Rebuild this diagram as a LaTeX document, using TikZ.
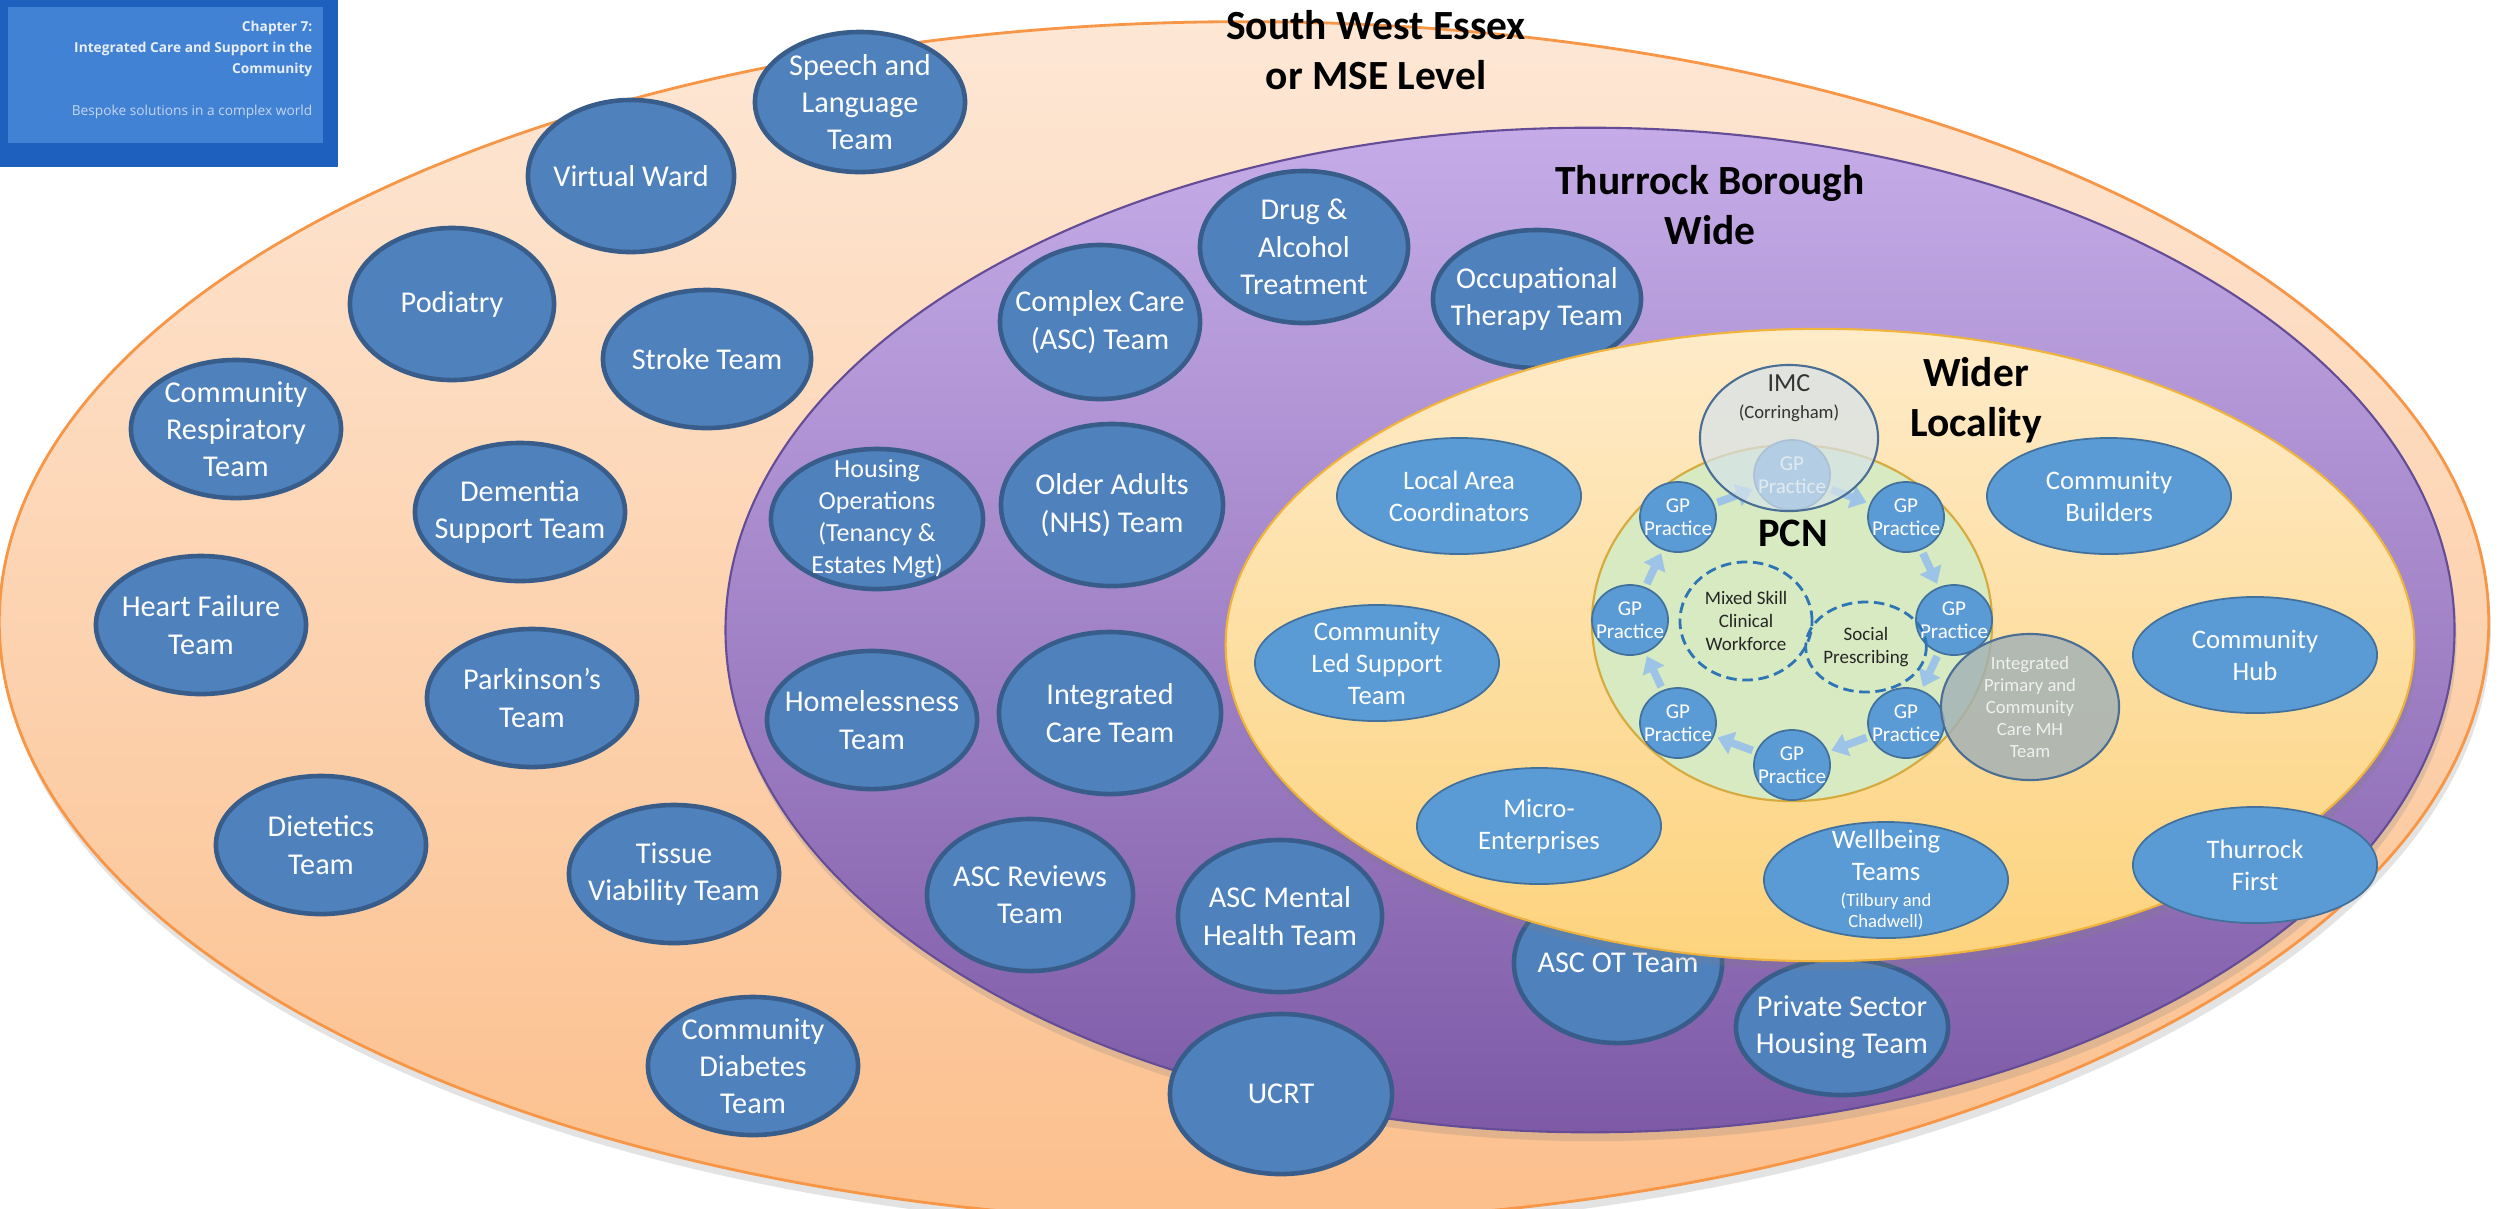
\documentclass[tikz,border=0pt]{standalone}
\usepackage{fontspec}
\setmainfont{Carlito}
\newfontfamily\hdrfamily{Open Sans}
\usetikzlibrary{shapes.geometric,arrows.meta,shadows}

\definecolor{peachtop}{RGB}{253,231,213}
\definecolor{peachbot}{RGB}{252,191,140}
\definecolor{peachedge}{RGB}{247,150,70}
\definecolor{purpletop}{RGB}{197,172,232}
\definecolor{purplebot}{RGB}{126,90,166}
\definecolor{purpleedge}{RGB}{100,76,150}
\definecolor{yellowtop}{RGB}{254,235,201}
\definecolor{yellowbot}{RGB}{253,211,125}
\definecolor{yellowedge}{RGB}{240,180,60}
\definecolor{pcngreen}{RGB}{216,234,194}
\definecolor{pcnedge}{RGB}{214,170,60}
\definecolor{teamblue}{RGB}{79,129,189}
\definecolor{teamedge}{RGB}{56,93,138}
\definecolor{localblue}{RGB}{91,155,213}
\definecolor{localedge}{RGB}{65,113,156}
\definecolor{arrowblue}{RGB}{157,195,230}
\definecolor{dashblue}{RGB}{46,117,182}
\definecolor{imcfill}{RGB}{214,226,234}
\definecolor{imcedge}{RGB}{74,110,148}
\definecolor{mhfill}{RGB}{160,176,182}
\definecolor{hdrdark}{RGB}{30,96,190}
\definecolor{hdrlight}{RGB}{66,130,212}
\definecolor{hdrtext}{RGB}{232,238,247}
\definecolor{hdrsub}{RGB}{196,214,240}

\newcommand{\teamfont}{\fontsize{8.6}{10.6}\selectfont}
\newcommand{\housefont}{\fontsize{7.4}{9.1}\selectfont}
\newcommand{\localfont}{\fontsize{7.6}{9.1}\selectfont}
\newcommand{\mhfont}{\fontsize{5.3}{6.2}\selectfont}
\newcommand{\gpfont}{\fontsize{6}{6.6}\selectfont}
\newcommand{\pcnfont}{\fontsize{5.4}{6.6}\selectfont}
\newcommand{\imcfont}{\fontsize{7.4}{9}\selectfont}
\newcommand{\zonefont}{\fontsize{11.8}{14.2}\selectfont\bfseries}
\newcommand{\hdrfont}{\hdrfamily\fontsize{3.9}{6}\selectfont}

\tikzset{
  txt/.style={text=white, align=center, inner sep=0pt, text opacity=1},
  teambox/.style={ellipse, draw=teamedge, fill=teamblue, line width=1.3pt, minimum width=2.1cm, minimum height=1.38cm, inner sep=0pt},
  team/.style={teambox, label={[txt, font=\teamfont]center:#1}},
  localbox/.style={ellipse, draw=localedge, fill=localblue, line width=0.5pt, minimum width=2.44cm, minimum height=1.16cm, inner sep=0pt},
  local/.style={localbox, label={[txt, font=\localfont]center:#1}},
  gp/.style={ellipse, draw=localedge, fill=localblue, line width=0.5pt, minimum width=0.76cm, minimum height=0.7cm, inner sep=0pt, label={[txt, font=\gpfont]center:GP\\Practice}},
  flow/.style={-{Triangle[length=4.5pt, width=6.5pt]}, draw=arrowblue, line width=2.2pt, shorten <=1pt, shorten >=1pt},
  ring/.style={ellipse, draw=dashblue, dash pattern=on 3pt off 1.6pt, line width=0.8pt, inner sep=0pt, align=center, text=black!85, font=\pcnfont},
  zone/.style={font=\zonefont, align=center, inner sep=0pt},
  zoneshadow/.style={drop shadow={shadow xshift=0.6pt, shadow yshift=-2.5pt, opacity=0.22}},
}

\begin{document}
\begin{tikzpicture}[x=0.01cm, y=-0.01cm]
  \useasboundingbox (0,0) rectangle (2503,1208);
  \clip (0,0) rectangle (2503,1208);

  % header box
  \fill[hdrdark] (0,0) rectangle (338,167);
  \fill[hdrlight] (8,7) rectangle (323,143);
  \node[anchor=north east, align=right, inner sep=0pt, text=hdrtext, font=\hdrfont\bfseries] (chapter) at (313,20)
    {Chapter 7:\\Integrated Care and Support in the\\Community\\[6pt]{\mdseries\color{hdrsub}Bespoke solutions in a complex world}};

  % the three levels
  \draw[draw=peachedge, line width=0.8pt, top color=peachtop, bottom color=peachbot, zoneshadow] (1244,622) ellipse [x radius=12.44cm, y radius=6cm];
  \draw[draw=purpleedge, line width=0.6pt, top color=purpletop, bottom color=purplebot, zoneshadow] (1590,630) ellipse [x radius=8.64cm, y radius=5.02cm];

  % South West Essex teams
  \node[team={Speech and\\Language\\Team}, minimum height=1.4cm] (speech) at (860,102) {};
  \node[team={Virtual Ward}, minimum width=2.06cm, minimum height=1.52cm] (virtual) at (631,176) {};
  \node[team={Podiatry}, minimum width=2.04cm, minimum height=1.52cm] (podiatry) at (452,304) {};
  \node[team={Stroke Team}, minimum width=2.08cm] (stroke) at (707,359) {};
  \node[team={Community\\Respiratory\\Team}] (respiratory) at (236,429) {};
  \node[team={Dementia\\Support Team}] (dementia) at (520,512) {};
  \node[team={Heart Failure\\Team}] (heart) at (201,625) {};
  \node[team={Parkinson’s\\Team}] (parkinson) at (532,698) {};
  \node[team={Dietetics\\Team}] (dietetics) at (321,845) {};
  \node[team={Tissue\\Viability Team}] (tissue) at (674,874) {};
  \node[team={Community\\Diabetes\\Team}] (diabetes) at (753,1066) {};
  \node[team={UCRT}, minimum width=2.22cm, minimum height=1.6cm] (ucrt) at (1281,1094) {};

  % Thurrock teams
  \node[team={Drug \&\\Alcohol\\Treatment}, minimum width=2.08cm, minimum height=1.52cm] (drug) at (1304,247) {};
  \node[team={Occupational\\Therapy Team}, minimum width=2.08cm] (occupational) at (1537,299) {};
  \node[team={Complex Care\\(ASC) Team}, minimum width=2cm, minimum height=1.54cm] (complex) at (1100,322) {};
  \node[teambox, minimum width=2.12cm, minimum height=1.4cm, label={[txt, font=\housefont]center:Housing\\Operations\\(Tenancy \&\\Estates Mgt)}] (housing) at (877,519) {};
  \node[team={Older Adults\\(NHS) Team}, minimum width=2.22cm, minimum height=1.62cm] (older) at (1112,505) {};
  \node[team={Homelessness\\Team}] (homeless) at (872,720) {};
  \node[team={Integrated\\Care Team}, minimum width=2.22cm, minimum height=1.62cm] (integrated) at (1110,713) {};
  \node[team={ASC Reviews\\Team}, minimum width=2.06cm, minimum height=1.52cm] (reviews) at (1030,895) {};
  \node[team={ASC Mental\\Health Team}, minimum width=2.04cm, minimum height=1.52cm] (mental) at (1280,916) {};
  \node[team={ASC OT Team}, minimum width=2.08cm, minimum height=1.6cm] (ascot) at (1618,963) {};
  \node[team={Private Sector\\Housing Team}, minimum width=2.12cm, minimum height=1.36cm] (private) at (1842,1027) {};

  % wider locality
  \draw[draw=yellowedge, line width=0.6pt, top color=yellowtop, bottom color=yellowbot, zoneshadow] (1820,645) ellipse [x radius=5.94cm, y radius=3.16cm];

  \node[local={Local Area\\Coordinators}] (coordinators) at (1459,496) {};
  \node[local={Community\\Led Support\\Team}] (ledsupport) at (1377,663) {};
  \node[local={Micro-\\Enterprises}] (micro) at (1539,826) {};
  \node[local={Community\\Builders}] (builders) at (2109,496) {};
  \node[local={Community\\Hub}] (hub) at (2255,655) {};
  \node[local={Thurrock\\First}] (first) at (2255,865) {};
  \node[localbox, label={[txt, font=\localfont]center:Wellbeing\\Teams\\[-1.7pt]{\mhfont (Tilbury and}\\[-3.2pt]{\mhfont Chadwell)}}] (wellbeing) at (1886,880) {};

  % PCN
  \draw[draw=pcnedge, fill=pcngreen, line width=0.6pt] (1792,623) ellipse [x radius=2cm, y radius=1.78cm];

  \node[gp] (gpN) at (1792,475) {};
  \node[gp] (gpNE) at (1906,517) {};
  \node[gp] (gpE) at (1954,620) {};
  \node[gp] (gpSE) at (1906,723) {};
  \node[gp] (gpS) at (1792,765) {};
  \node[gp] (gpSW) at (1678,723) {};
  \node[gp] (gpW) at (1630,620) {};
  \node[gp] (gpNW) at (1678,517) {};

  \draw[flow] (gpN) -- (gpNE);
  \draw[flow] (gpNE) -- (gpE);
  \draw[flow] (gpE) -- (gpSE);
  \draw[flow] (gpSE) -- (gpS);
  \draw[flow] (gpS) -- (gpSW);
  \draw[flow] (gpSW) -- (gpW);
  \draw[flow] (gpW) -- (gpNW);
  \draw[flow] (gpNW) -- (gpN);

  \node[ring, minimum width=1.32cm, minimum height=1.18cm] (mixed) at (1746,621) {Mixed Skill\\Clinical\\Workforce};
  \node[ring, minimum width=1.02cm, minimum height=0.9cm] (social) at (1866,647) {Social\\Prescribing};

  \node[ellipse, draw=imcedge, fill=imcfill, fill opacity=0.72, line width=0.6pt, minimum width=1.78cm, minimum height=1.46cm, inner sep=0pt,
    label={[text=black!80, align=center, inner sep=0pt, text opacity=1, yshift=0.4cm, font=\imcfont]center:IMC\\[-1.3pt]{\mhfont (Corringham)}}] (imc) at (1789,438) {};
  \node[ellipse, draw=imcedge, fill=mhfill, fill opacity=0.8, line width=0.6pt, minimum width=1.78cm, minimum height=1.46cm, inner sep=0pt,
    label={[text=white!94!black, align=center, inner sep=0pt, text opacity=1, font=\mhfont]center:Integrated\\Primary and\\Community\\Care MH\\Team}] (mhteam) at (2030,707) {};

  % level titles
  \node[zone] (swessex) at (1376,50) {South West Essex\\or MSE Level};
  \node[zone] (thurrock) at (1710,205) {Thurrock Borough\\Wide};
  \node[zone] (wider) at (1976,400) {Wider\\Locality};
  \node[zone, font=\fontsize{11.5}{14}\selectfont\bfseries] (pcn) at (1793,533) {PCN};
\end{tikzpicture}
\end{document}
